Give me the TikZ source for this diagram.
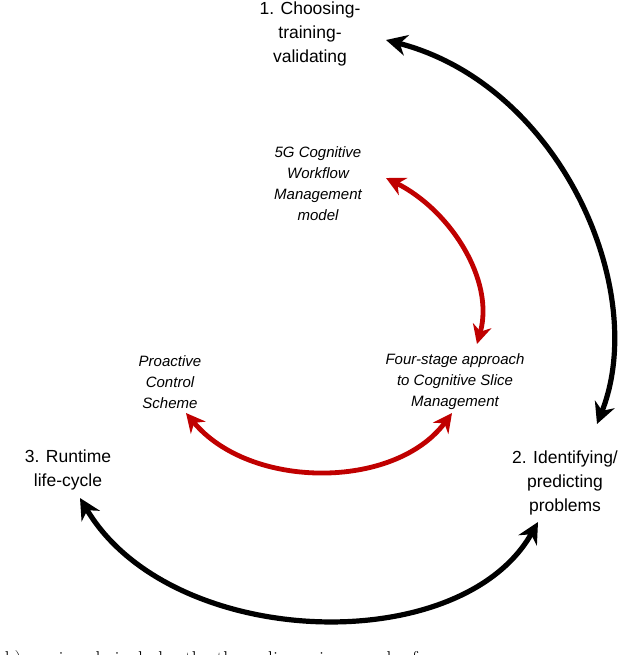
\documentclass[tikz,border=0pt]{standalone}
\usepackage{fontspec}
\setmainfont{Liberation Sans}
\usetikzlibrary{arrows.meta}
\definecolor{cred}{RGB}{192,0,0}
\begin{document}
\begin{tikzpicture}[x=1pt,y=-1pt,
  lab/.style={align=center,font=\fontsize{17.5}{24}\selectfont},
  ilab/.style={align=center,font=\fontsize{15}{21}\selectfont\itshape},
  blk/.style={line width=5.2pt,{Stealth[length=21pt,width=21pt]}-{Stealth[length=21pt,width=21pt]}},
  rd/.style={cred,line width=4.8pt,{Stealth[length=19pt,width=19pt]}-{Stealth[length=19pt,width=19pt]}}]
\clip (0,0) rectangle (640,655);
\useasboundingbox (0,0) rectangle (640,655);
\node[lab] (n1) at (310,34) {1. Choosing-\\training-\\validating};
\node[lab] (n2) at (565,483) {2. Identifying/\\predicting\\problems};
\node[lab] (n3) at (68,470) {3. Runtime\\life-cycle};
\node[ilab] (m1) at (318,184) {5G Cognitive\\Workflow\\Management\\model};
\node[ilab] (m2) at (455,382) {Four-stage approach\\to Cognitive Slice\\Management};
\node[ilab] (m3) at (170,382) {Proactive\\Control\\Scheme};
\coordinate (a1) at (386,40); \coordinate (a2) at (597,424);
\coordinate (b1) at (80,498); \coordinate (b2) at (538,522);
\coordinate (c1) at (386,178); \coordinate (c2) at (477,344);
\coordinate (d1) at (186,413); \coordinate (d2) at (452,413);
\draw[blk] (a1) .. controls (560,85) and (650,290) .. (a2);
\draw[blk] (b1) .. controls (170,650) and (460,660) .. (b2);
\draw[rd] (c1) .. controls (450,210) and (495,280) .. (c2);
\draw[rd] (d1) .. controls (250,490) and (395,490) .. (d2);
\node[anchor=base west,font=\fontsize{20}{24}\selectfont,inner sep=0] (cap) at (-12,665) {\fontspec{Latin Modern Roman}ack) semi-cycle includes the three dimensions, each of};
\end{tikzpicture}
\end{document}
